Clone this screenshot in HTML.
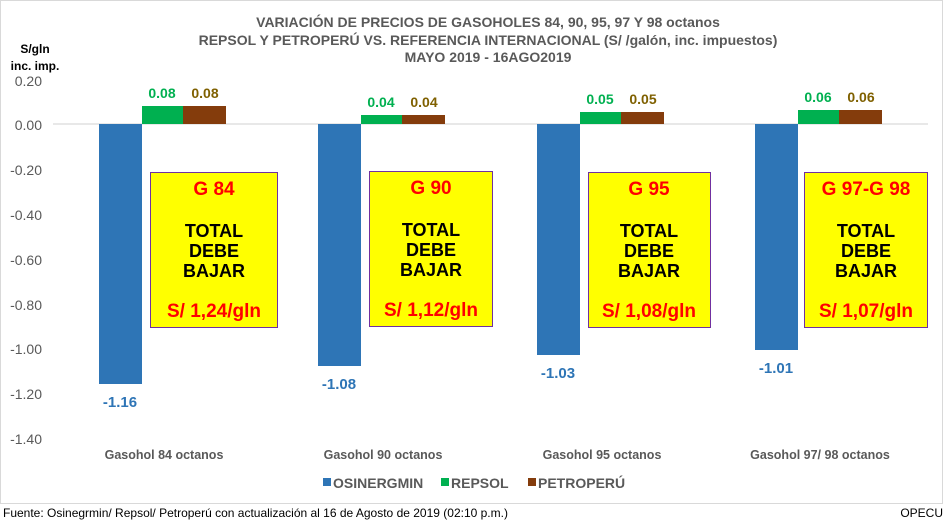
<!DOCTYPE html>
<html><head><meta charset="utf-8"><style>
html,body{margin:0;padding:0;background:#fff;}
svg{display:block;font-family:"Liberation Sans",Arial,sans-serif;}
</style></head><body>
<svg width="946" height="522" viewBox="0 0 946 522" xmlns="http://www.w3.org/2000/svg">
<rect x="0.5" y="0.5" width="942" height="503" fill="#fff" stroke="#d9d9d9"/>
<g font-weight="bold" fill="#595959" font-size="14" text-anchor="middle">
<text x="488" y="27">VARIACIÓN DE PRECIOS DE GASOHOLES 84, 90, 95, 97 Y 98 octanos</text>
<text x="488" y="45">REPSOL Y PETROPERÚ VS. REFERENCIA INTERNACIONAL (S/ /galón, inc. impuestos)</text>
<text x="488" y="62">MAYO 2019 - 16AGO2019</text>
</g>
<g font-weight="bold" font-size="12" text-anchor="middle" fill="#000">
<text x="35" y="53">S/gln</text><text x="35" y="70">inc. imp.</text>
</g>
<g font-size="14" fill="#595959" text-anchor="end">
<text x="42" y="86">0.20</text><text x="42" y="130">0.00</text><text x="42" y="175">-0.20</text>
<text x="42" y="220">-0.40</text><text x="42" y="265">-0.60</text><text x="42" y="310">-0.80</text>
<text x="42" y="354">-1.00</text><text x="42" y="399">-1.20</text><text x="42" y="444">-1.40</text>
</g>
<line x1="53" y1="124" x2="928" y2="124" stroke="#d9d9d9" stroke-width="1.2"/>
<g>
<rect x="99" y="124" width="43" height="260" fill="#2e75b6"/>
<rect x="142" y="106" width="41" height="18" fill="#00b050"/>
<rect x="183" y="106" width="43" height="18" fill="#843c0c"/>
<rect x="318" y="124" width="43" height="242" fill="#2e75b6"/>
<rect x="361" y="115" width="41" height="9" fill="#00b050"/>
<rect x="402" y="115" width="43" height="9" fill="#843c0c"/>
<rect x="537" y="124" width="43" height="231" fill="#2e75b6"/>
<rect x="580" y="112" width="41" height="12" fill="#00b050"/>
<rect x="621" y="112" width="43" height="12" fill="#843c0c"/>
<rect x="755" y="124" width="43" height="226" fill="#2e75b6"/>
<rect x="798" y="110" width="41" height="14" fill="#00b050"/>
<rect x="839" y="110" width="43" height="14" fill="#843c0c"/>
</g>
<g font-weight="bold" font-size="14" text-anchor="middle">
<g fill="#00b050"><text x="162" y="98">0.08</text><text x="381" y="107">0.04</text><text x="600" y="104">0.05</text><text x="818" y="102">0.06</text></g>
<g fill="#7f6000"><text x="205" y="98">0.08</text><text x="424" y="107">0.04</text><text x="643" y="104">0.05</text><text x="861" y="102">0.06</text></g>
<g fill="#2e75b6" font-size="15"><text x="120" y="407">-1.16</text><text x="339" y="389">-1.08</text><text x="558" y="378">-1.03</text><text x="776" y="373">-1.01</text></g>
</g>
<g font-weight="bold" text-anchor="middle">
<g transform="translate(150,172)"><rect x="0.5" y="0.5" width="127" height="155" fill="#ffff00" stroke="#7030a0"/><text x="64" y="23" fill="#ff0000" font-size="19">G 84</text><text x="64" y="65" font-size="18">TOTAL</text><text x="64" y="85" font-size="18">DEBE</text><text x="64" y="105" font-size="18">BAJAR</text><text x="64" y="145" fill="#ff0000" font-size="19">S/ 1,24/gln</text></g>
<g transform="translate(369,171)"><rect x="0.5" y="0.5" width="123" height="155" fill="#ffff00" stroke="#7030a0"/><text x="62" y="23" fill="#ff0000" font-size="19">G 90</text><text x="62" y="65" font-size="18">TOTAL</text><text x="62" y="85" font-size="18">DEBE</text><text x="62" y="105" font-size="18">BAJAR</text><text x="62" y="145" fill="#ff0000" font-size="19">S/ 1,12/gln</text></g>
<g transform="translate(588,172)"><rect x="0.5" y="0.5" width="122" height="155" fill="#ffff00" stroke="#7030a0"/><text x="61" y="23" fill="#ff0000" font-size="19">G 95</text><text x="61" y="65" font-size="18">TOTAL</text><text x="61" y="85" font-size="18">DEBE</text><text x="61" y="105" font-size="18">BAJAR</text><text x="61" y="145" fill="#ff0000" font-size="19">S/ 1,08/gln</text></g>
<g transform="translate(804,172)"><rect x="0.5" y="0.5" width="123" height="155" fill="#ffff00" stroke="#7030a0"/><text x="62" y="23" fill="#ff0000" font-size="19">G 97-G 98</text><text x="62" y="65" font-size="18">TOTAL</text><text x="62" y="85" font-size="18">DEBE</text><text x="62" y="105" font-size="18">BAJAR</text><text x="62" y="145" fill="#ff0000" font-size="19">S/ 1,07/gln</text></g>
</g>
<g font-weight="bold" font-size="12.5" fill="#595959" text-anchor="middle">
<text x="164" y="459">Gasohol 84 octanos</text><text x="383" y="459">Gasohol 90 octanos</text>
<text x="602" y="459">Gasohol 95 octanos</text><text x="820" y="459">Gasohol 97/ 98 octanos</text>
</g>
<g font-weight="bold" font-size="14" fill="#595959">
<rect x="323" y="478" width="8" height="8" fill="#2e75b6"/><text x="333" y="488">OSINERGMIN</text>
<rect x="441" y="478" width="8" height="8" fill="#00b050"/><text x="451" y="488">REPSOL</text>
<rect x="528" y="478" width="8" height="8" fill="#843c0c"/><text x="538" y="488">PETROPERÚ</text>
</g>
<g font-size="12" fill="#000">
<text x="3" y="517">Fuente: Osinegrmin/ Repsol/ Petroperú con actualización al 16 de Agosto de 2019 (02:10 p.m.)</text>
<text x="943" y="517" text-anchor="end">OPECU</text>
</g>
</svg>
</body></html>
